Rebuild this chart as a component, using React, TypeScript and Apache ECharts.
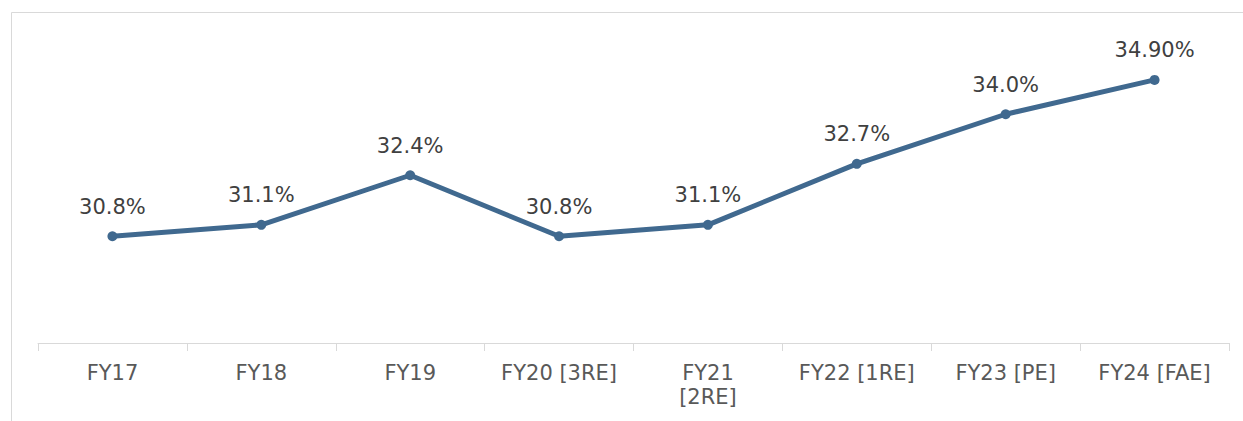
import React, { useEffect, useRef } from "react";
import * as echarts from "echarts";

const categories = ["FY17", "FY18", "FY19", "FY20 [3RE]", "FY21 [2RE]", "FY22 [1RE]", "FY23 [PE]", "FY24 [FAE]"];
const values = [30.8, 31.1, 32.4, 30.8, 31.1, 32.7, 34.0, 34.9];
const valueLabels = ["30.8%", "31.1%", "32.4%", "30.8%", "31.1%", "32.7%", "34.0%", "34.90%"];

export default function App() {
  const ref = useRef<HTMLDivElement>(null);
  useEffect(() => {
    if (!ref.current) return;
    const chart = echarts.init(ref.current, null, { renderer: "svg" });
    chart.setOption({
      animation: false,
      backgroundColor: "#ffffff",
      graphic: [
        {
          type: "rect",
          shape: { x: 11.5, y: 12.5, width: 1250, height: 430 },
          style: { fill: "none", stroke: "#d9d9d9", lineWidth: 1 },
          silent: true,
        },
      ],
      grid: { left: 38, right: 14, top: 38, bottom: 78 },
      xAxis: {
        type: "category",
        data: categories,
        boundaryGap: true,
        axisLine: { lineStyle: { color: "#d9d9d9", width: 1 } },
        axisTick: { show: true, length: 8, lineStyle: { color: "#d9d9d9" } },
        axisLabel: {
          margin: 18,
          fontFamily: "DejaVu Sans",
          fontSize: 21,
          color: "#595959",
          lineHeight: 24,
          interval: 0,
          formatter: (v: string) => (v === "FY21 [2RE]" ? "FY21\n[2RE]" : v),
        },
      },
      yAxis: {
        type: "value",
        min: 28,
        max: 36,
        show: false,
        splitLine: { show: false },
      },
      series: [
        {
          type: "line",
          data: values,
          symbol: "circle",
          symbolSize: 10,
          lineStyle: { color: "#40698f", width: 5 },
          itemStyle: { color: "#40698f" },
          label: {
            show: true,
            position: "top",
            distance: 14,
            fontFamily: "DejaVu Sans",
            fontSize: 21,
            color: "#404040",
            formatter: (p: any) => valueLabels[p.dataIndex],
          },
        },
      ],
    });
    return () => chart.dispose();
  }, []);
  return (
    <div
      ref={ref}
      style={{ position: "fixed", left: 0, top: 0, width: 1243, height: 421 }}
    />
  );
}
